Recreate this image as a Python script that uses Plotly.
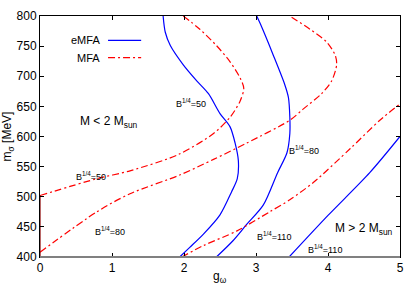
import plotly.graph_objects as go

# eMFA (solid blue) curves: g_omega, m_sigma
e50_g = [1.71, 1.74, 1.81, 1.99, 2.18, 2.34, 2.50, 2.64, 2.71, 2.755, 2.74, 2.66, 2.50, 2.27, 2.08, 1.94]
e50_m = [800, 773, 751, 719, 692, 671, 638, 616, 589, 560, 530, 508, 470, 438, 416, 400]
e80_g = [3.01, 3.06, 3.24, 3.40, 3.45, 3.47, 3.47, 3.43, 3.30, 3.10, 2.87, 2.68, 2.45]
e80_m = [800, 787, 735, 686, 665, 632, 605, 573, 540, 486, 454, 427, 400]
e110_g = [3.46, 4.00, 4.58, 5.00]
e110_m = [400, 469, 540, 600]

# MFA (red dash-dot) curves
m50_g = [0.0, 0.79, 1.25, 1.92, 2.41, 2.64, 2.78, 2.83, 2.78, 2.64, 2.45, 2.22, 1.99]
m50_m = [502, 530, 543, 570, 605, 632, 659, 680, 697, 724, 751, 778, 800]
m80_g = [0.0, 0.79, 1.25, 1.94, 2.41, 2.87, 3.47, 3.65, 3.91, 4.05, 4.12, 4.10, 3.98, 3.75, 3.47]
m80_m = [408, 475, 505, 536, 562, 589, 627, 645, 671, 692, 719, 735, 757, 778, 800]
m110_g = [1.97, 2.27, 2.73, 3.19, 3.47, 3.80, 4.31, 4.72, 5.00]
m110_m = [400, 419, 443, 475, 495, 524, 580, 627, 654]
edge_g = [0.0, 0.0]
edge_m = [400, 502]

# text labels
lab_text = ["B<sup>1/4</sup>=50", "B<sup>1/4</sup>=80", "B<sup>1/4</sup>=50", "B<sup>1/4</sup>=80",
            "B<sup>1/4</sup>=110", "B<sup>1/4</sup>=110"]
lab_g = [2.10, 3.67, 0.71, 0.97, 3.25, 3.96]
lab_m = [655, 578, 535, 443, 435, 413]

BLUE = "#0000ff"
RED = "#ff0000"
DASH = "7px,3px,2px,3px"
FONT = "Liberation Sans, Arial, sans-serif"

fig = go.Figure()
for g, m in [(e50_g, e50_m), (e80_g, e80_m), (e110_g, e110_m)]:
    fig.add_trace(go.Scatter(x=g, y=m, mode="lines", line=dict(color=BLUE, width=1.2, shape="spline", smoothing=0.8),
                             showlegend=False, hoverinfo="skip"))
for g, m in [(m50_g, m50_m), (m80_g, m80_m), (m110_g, m110_m)]:
    fig.add_trace(go.Scatter(x=g, y=m, mode="lines", line=dict(color=RED, width=1.2, dash=DASH, shape="spline", smoothing=0.8),
                             showlegend=False, hoverinfo="skip"))
fig.add_trace(go.Scatter(x=edge_g, y=edge_m, mode="lines", line=dict(color="#8b0000", width=1.2),
                         showlegend=False, hoverinfo="skip", cliponaxis=False))

annotations = []
for t, g, m in zip(lab_text, lab_g, lab_m):
    annotations.append(dict(x=g, y=m, xref="x", yref="y", text=t, showarrow=False,
                            xanchor="center", yanchor="middle",
                            font=dict(size=9, color="black", family=FONT)))
annotations += [
    dict(x=0.96, y=624, xref="x", yref="y", text="M &lt; 2 M<sub>sun</sub>", showarrow=False,
         xanchor="center", yanchor="middle", font=dict(size=12, color="black", family=FONT)),
    dict(x=4.5, y=446, xref="x", yref="y", text="M &gt; 2 M<sub>sun</sub>", showarrow=False,
         xanchor="center", yanchor="middle", font=dict(size=12, color="black", family=FONT)),
    dict(x=0.172, y=0.899, xref="paper", yref="paper", text="eMFA", showarrow=False, xanchor="right",
         yanchor="middle", font=dict(size=11, color="black", family=FONT)),
    dict(x=0.172, y=0.827, xref="paper", yref="paper", text="MFA", showarrow=False, xanchor="right",
         yanchor="middle", font=dict(size=11, color="black", family=FONT)),
    dict(x=-0.089, y=0.5, xref="paper", yref="paper", text="m<sub>σ</sub> [MeV]", showarrow=False,
         xanchor="center", yanchor="middle", textangle=-90, font=dict(size=12, color="black", family=FONT)),
    dict(x=0.5, y=-0.082, xref="paper", yref="paper", text="g<sub>ω</sub>", showarrow=False,
         xanchor="center", yanchor="middle", font=dict(size=12, color="black", family=FONT)),
]

shapes = [
    dict(type="line", xref="paper", yref="paper", x0=0.189, x1=0.281, y0=0.899, y1=0.899,
         line=dict(color=BLUE, width=1.2)),
    dict(type="line", xref="paper", yref="paper", x0=0.189, x1=0.281, y0=0.827, y1=0.827,
         line=dict(color=RED, width=1.2, dash=DASH)),
    dict(type="line", xref="paper", yref="paper", x0=0, x1=1, y0=0, y1=0,
         line=dict(color="#808080", width=2)),
]

axis_common = dict(showgrid=False, zeroline=False, showline=True, linecolor="black", linewidth=1,
                   mirror="allticks", ticks="inside", ticklen=4, tickcolor="black",
                   tickfont=dict(size=12, color="black", family=FONT))
fig.update_layout(
    width=415, height=291,
    margin=dict(l=40, r=15, t=9, b=34),
    paper_bgcolor="white", plot_bgcolor="white",
    xaxis=dict(range=[0, 5], dtick=1, tick0=0, **axis_common),
    yaxis=dict(range=[400, 800], dtick=50, tick0=400, **axis_common),
    annotations=annotations, shapes=shapes,
    font=dict(family=FONT),
)
fig.write_html("out.html", config={"displayModeBar": False},
               post_script="document.body.style.margin='0';document.body.style.overflow='hidden';")
